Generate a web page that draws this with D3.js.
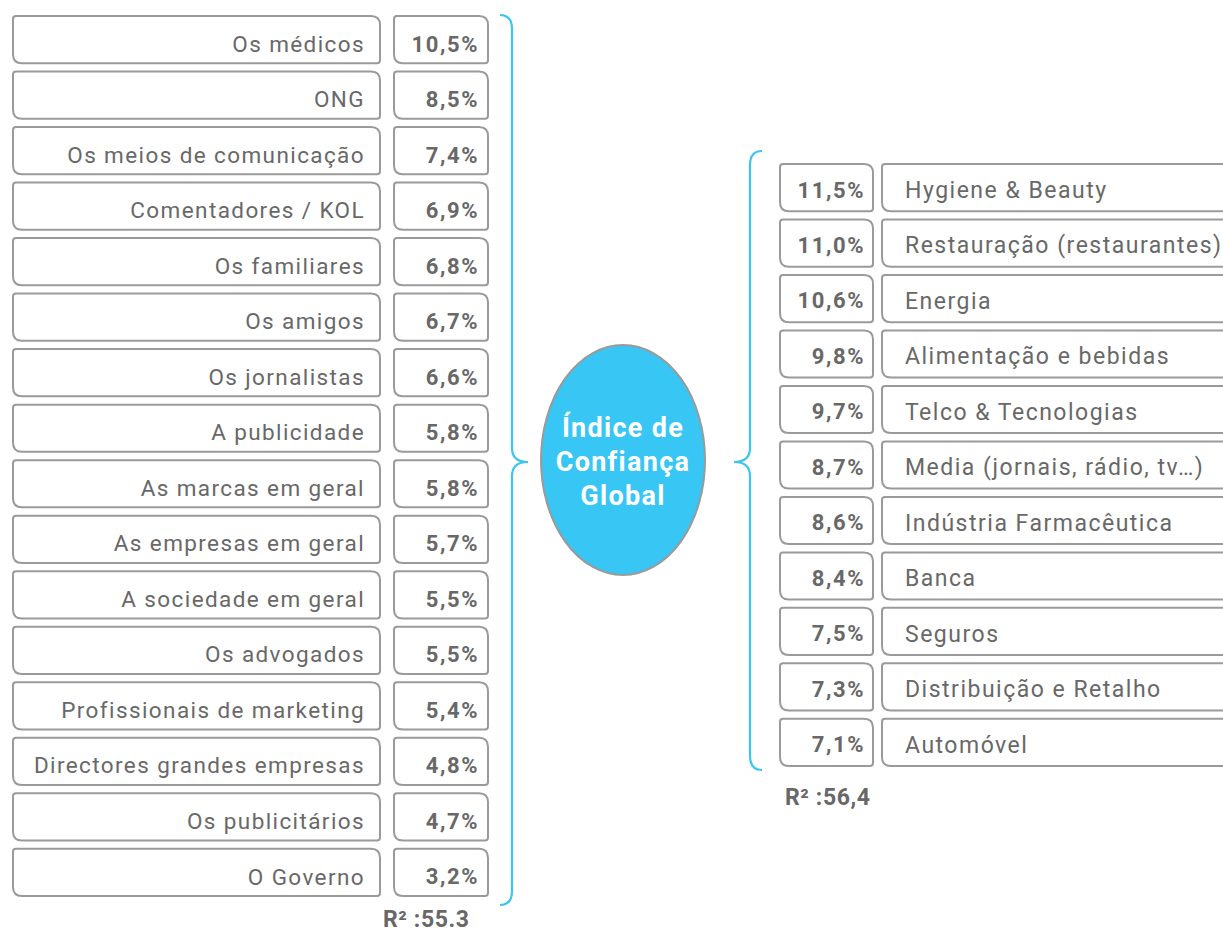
<!DOCTYPE html>
<html><head><meta charset="utf-8">
<script src="https://cdn.jsdelivr.net/npm/d3@7"></script>
<style>body{margin:0;background:#fff}svg{display:block}text{font-family:Roboto,"Noto Sans",sans-serif}</style>
</head><body><svg id="c" width="1223" height="932"></svg>
<script>
const leftLabels = ["Os médicos","ONG","Os meios de comunicação","Comentadores / KOL","Os familiares","Os amigos","Os jornalistas","A publicidade","As marcas em geral","As empresas em geral","A sociedade em geral","Os advogados","Profissionais de marketing","Directores grandes empresas","Os publicitários","O Governo"];
const leftValues = [10.5,8.5,7.4,6.9,6.8,6.7,6.6,5.8,5.8,5.7,5.5,5.5,5.4,4.8,4.7,3.2];
const rightLabels = ["Hygiene & Beauty","Restauração (restaurantes)","Energia","Alimentação e bebidas","Telco & Tecnologias","Media (jornais, rádio, tv…)","Indústria Farmacêutica","Banca","Seguros","Distribuição e Retalho","Automóvel"];
const rightValues = [11.5,11.0,10.6,9.8,9.7,8.7,8.6,8.4,7.5,7.3,7.1];
const centerLines = ["Índice de","Confiança","Global"];
const r2Left = "R² :55.3", r2Right = "R² :56,4";

const svg = d3.select("#c");
const GRAY = "#9a9a9a", TXT = "#686868", BLUE = "#3ec4f0";
const fmt = v => d3.format(".1f")(v).replace(".", ",") + "%";

function boxPath(x, y, w, h) {
  const a = 3, b = 9; // small radius TL/BR, large TR/BL
  return `M${x+a},${y} H${x+w-b} Q${x+w},${y} ${x+w},${y+b} V${y+h-a} Q${x+w},${y+h} ${x+w-a},${y+h}
    H${x+b} Q${x},${y+h} ${x},${y+h-b} V${y+a} Q${x},${y} ${x+a},${y} Z`;
}

// left
const yL = d3.scaleBand().domain(d3.range(leftLabels.length)).range([16, 896]).paddingInner(0.15).paddingOuter(0);
const gL = svg.append("g");
const rowL = gL.selectAll("g").data(leftLabels).join("g");
rowL.append("path").attr("d", (d,i) => boxPath(13, yL(i), 367, yL.bandwidth()))
  .attr("fill","#fff").attr("stroke",GRAY).attr("stroke-width",2);
rowL.append("path").attr("d", (d,i) => boxPath(394, yL(i), 94, yL.bandwidth()))
  .attr("fill","#fff").attr("stroke",GRAY).attr("stroke-width",2);
rowL.append("text").attr("x",365).attr("y",(d,i)=>yL(i)+yL.bandwidth()/2+4).attr("dy","0.36em")
  .attr("text-anchor","end").attr("font-size",22.5).attr("letter-spacing",1.4).attr("fill",TXT).text(d=>d);
rowL.append("text").attr("x",479).attr("y",(d,i)=>yL(i)+yL.bandwidth()/2+4).attr("dy","0.36em")
  .attr("text-anchor","end").attr("font-size",22).attr("letter-spacing",1.6).attr("font-weight","bold").attr("fill",TXT)
  .text((d,i)=>fmt(leftValues[i]));

// right
const yR = d3.scaleBand().domain(d3.range(rightLabels.length)).range([164, 766]).paddingInner(0.15).paddingOuter(0);
const gR = svg.append("g");
const rowR = gR.selectAll("g").data(rightLabels).join("g");
rowR.append("path").attr("d", (d,i) => boxPath(780, yR(i), 93, yR.bandwidth()))
  .attr("fill","#fff").attr("stroke",GRAY).attr("stroke-width",2);
rowR.append("path").attr("d", (d,i) => boxPath(882, yR(i), 360, yR.bandwidth()))
  .attr("fill","#fff").attr("stroke",GRAY).attr("stroke-width",2);
rowR.append("text").attr("x",865).attr("y",(d,i)=>yR(i)+yR.bandwidth()/2+2).attr("dy","0.36em")
  .attr("text-anchor","end").attr("font-size",22).attr("letter-spacing",1.6).attr("font-weight","bold").attr("fill",TXT)
  .text((d,i)=>fmt(rightValues[i]));
rowR.append("text").attr("x",905).attr("y",(d,i)=>yR(i)+yR.bandwidth()/2+2).attr("dy","0.36em")
  .attr("text-anchor","start").attr("font-size",23).attr("letter-spacing",1.5).attr("fill",TXT).text(d=>d);

// braces
function brace(x0, top, bot, mid, dir) {
  const c = 12*dir, t = 16*dir;
  return `M${x0-c},${top} Q${x0},${top} ${x0},${top+14} V${mid-14} Q${x0},${mid} ${x0+t},${mid}
    Q${x0},${mid} ${x0},${mid+14} V${bot-14} Q${x0},${bot} ${x0-c},${bot}`;
}
svg.append("path").attr("d", brace(512, 15, 905, 462, 1)).attr("fill","none").attr("stroke",BLUE).attr("stroke-width",2.2);
svg.append("path").attr("d", brace(750, 151, 770, 462, -1)).attr("fill","none").attr("stroke",BLUE).attr("stroke-width",2.2);

// ellipse
svg.append("ellipse").attr("cx",623).attr("cy",460).attr("rx",82).attr("ry",115)
  .attr("fill","#38c6f4").attr("stroke",GRAY).attr("stroke-width",2);
svg.append("g").selectAll("text").data(centerLines).join("text")
  .attr("x",623).attr("y",(d,i)=>427+i*34).attr("dy","0.36em").attr("text-anchor","middle")
  .attr("font-size",27).attr("letter-spacing",1.3).attr("font-weight","bold").attr("fill","#fff").text(d=>d);

// R2
svg.append("text").attr("x",383).attr("y",919).attr("dy","0.36em").attr("font-size",23).attr("letter-spacing",0.6).attr("font-weight","bold").attr("fill",TXT).text(r2Left);
svg.append("text").attr("x",785).attr("y",797).attr("dy","0.36em").attr("font-size",23).attr("letter-spacing",0.6).attr("font-weight","bold").attr("fill",TXT).text(r2Right);
</script></body></html>
